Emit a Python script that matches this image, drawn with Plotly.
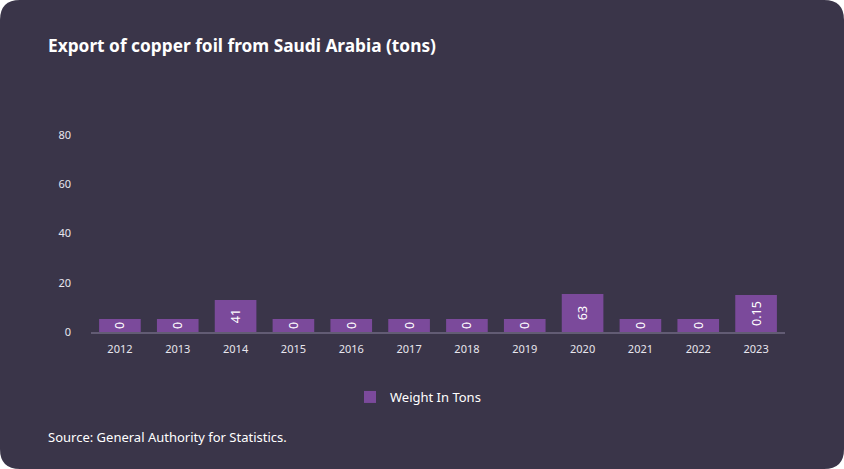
import plotly.graph_objects as go

years = ["2012", "2013", "2014", "2015", "2016", "2017", "2018", "2019", "2020", "2021", "2022", "2023"]
# displayed bar heights (as drawn in the reference)
bar_heights = [5.3, 5.3, 13.0, 5.3, 5.3, 5.3, 5.3, 5.3, 15.4, 5.3, 5.3, 15.0]
# value labels shown on the bars
value_labels = ["0", "0", "41", "0", "0", "0", "0", "0", "63", "0", "0", "0.15"]
y_ticks = [0, 20, 40, 60, 80]

W, H = 844, 469
ML, MR, MT, MB = 91, 59, 135, 137
PW, PH = W - ML - MR, H - MT - MB

def px(x):
    return (x - ML) / PW

def py(y):
    return (H - MB - y) / PH

CARD = "#3a3549"
BAR = "#7b4a9b"
FONT = "Noto Sans"

fig = go.Figure()
fig.add_trace(go.Bar(
    x=years, y=bar_heights, text=value_labels, name="Weight In Tons",
    marker=dict(color=BAR, line=dict(width=0)),
    textposition="inside", insidetextanchor="middle", textangle=-90,
    textfont=dict(color="white", size=12.5, family=FONT),
    hoverinfo="skip", showlegend=True,
))

r = 20
path = (f"M {px(r)},{py(0)} L {px(W-r)},{py(0)} Q {px(W)},{py(0)} {px(W)},{py(r)} "
        f"L {px(W)},{py(H-r)} Q {px(W)},{py(H)} {px(W-r)},{py(H)} "
        f"L {px(r)},{py(H)} Q {px(0)},{py(H)} {px(0)},{py(H-r)} "
        f"L {px(0)},{py(r)} Q {px(0)},{py(0)} {px(r)},{py(0)} Z")

fig.update_layout(
    width=W, height=H,
    margin=dict(l=ML, r=MR, t=MT, b=MB, pad=0),
    paper_bgcolor="white", plot_bgcolor="rgba(0,0,0,0)",
    font=dict(family=FONT, color="white"),
    bargap=0.28,
    shapes=[dict(type="path", path=path, xref="paper", yref="paper",
                 fillcolor=CARD, line=dict(width=0), layer="below")],
    title=dict(text="<b>Export of copper foil from Saudi Arabia (tons)</b>",
               x=48 / W, xanchor="left", xref="container",
               y=1 - 46 / H, yanchor="middle", yref="container",
               font=dict(size=17.3, color="white", family=FONT)),
    xaxis=dict(showgrid=False, showline=True, linecolor="#625c74", linewidth=2,
               ticks="", tickfont=dict(size=11, color="#e8e6ee"), ticklabelstandoff=6),
    yaxis=dict(range=[0, 80], tickvals=y_ticks, showgrid=False, zeroline=False,
               showline=False, ticks="", tickfont=dict(size=11, color="#e8e6ee"),
               ticklabelstandoff=19),
    legend=dict(orientation="h", x=px(418), xanchor="center", y=py(397), yanchor="middle",
                font=dict(size=13, color="white", family=FONT), bgcolor="rgba(0,0,0,0)"),
    annotations=[dict(text="Source: General Authority for Statistics.", xref="paper", yref="paper",
                      x=px(46), y=py(437), xanchor="left", yanchor="middle", showarrow=False,
                      font=dict(size=13, color="white", family=FONT))],
)

fig.write_html("out.html", config={"displayModeBar": False},
               post_script="document.body.style.margin='0';document.body.style.overflow='hidden';")
